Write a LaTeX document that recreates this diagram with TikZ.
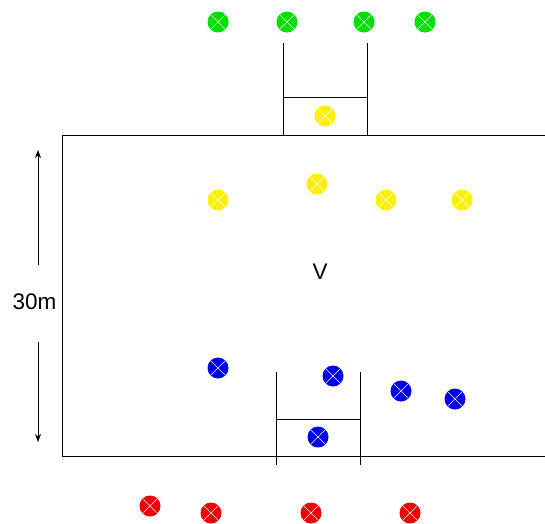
\documentclass[tikz,border=0pt]{standalone}
\usepackage{fontspec}
\setmainfont{Liberation Sans}
\usetikzlibrary{arrows.meta}
\definecolor{pgreen}{RGB}{0,222,0}
\definecolor{pyellow}{RGB}{255,240,0}
\definecolor{pblue}{RGB}{0,0,230}
\definecolor{pred}{RGB}{236,0,0}
\tikzset{
  player/.style={circle, fill=#1, draw=none, minimum size=21pt, inner sep=0pt,
    path picture={\draw[white, line width=0.6pt]
      (path picture bounding box.north west) -- (path picture bounding box.south east)
      (path picture bounding box.north east) -- (path picture bounding box.south west);}},
  fieldline/.style={black, line width=1pt},
  lbl/.style={font=\fontsize{22.5}{27}\selectfont, inner sep=0pt},
  dimarrow/.style={black, line width=0.9pt, -{Stealth[length=8pt,width=6pt]}}
}
\begin{document}
\begin{tikzpicture}[x=1pt,y=-1pt]
\useasboundingbox (0,0) rectangle (545,523);
% field
\coordinate (ftl) at (62,135);
\coordinate (ftr) at (545,135);
\coordinate (fbl) at (62,456);
\coordinate (fbr) at (545,456);
\draw[fieldline] (ftr) -- (ftl) -- (fbl) -- (fbr);
% top goal
\coordinate (tg1) at (283,43);
\coordinate (tg2) at (367,43);
\coordinate (tg1b) at (283,135);
\coordinate (tg2b) at (367,135);
\coordinate (tc1) at (283,97);
\coordinate (tc2) at (367,97);
\draw[fieldline] (tg1) -- (tg1b) (tg2) -- (tg2b) (tc1) -- (tc2);
% bottom goal
\coordinate (bg1) at (276,372);
\coordinate (bg2) at (360,372);
\coordinate (bg1b) at (276,465);
\coordinate (bg2b) at (360,465);
\coordinate (bc1) at (276,419);
\coordinate (bc2) at (360,419);
\draw[fieldline] (bg1) -- (bg1b) (bg2) -- (bg2b) (bc1) -- (bc2);
% dimension
\node[lbl] (dim) at (34.5,302) {30m};
\coordinate (dtop) at (38,150);
\coordinate (dtopS) at (38,265);
\coordinate (dbot) at (38,442);
\coordinate (dbotS) at (38,342);
\draw[dimarrow] (dtopS) -- (dtop);
\draw[dimarrow] (dbotS) -- (dbot);
% V label
\node[lbl] (v) at (320,272) {V};
% green players
\node[player=pgreen] (g1) at (218,22) {};
\node[player=pgreen] (g2) at (287,22) {};
\node[player=pgreen] (g3) at (364,22) {};
\node[player=pgreen] (g4) at (425,22) {};
% yellow players
\node[player=pyellow] (y0) at (325,116) {};
\node[player=pyellow] (y1) at (218,200) {};
\node[player=pyellow] (y2) at (317,184) {};
\node[player=pyellow] (y3) at (386,200) {};
\node[player=pyellow] (y4) at (462,200) {};
% blue players
\node[player=pblue] (b1) at (218,368) {};
\node[player=pblue] (b2) at (333,376) {};
\node[player=pblue] (b3) at (401,391) {};
\node[player=pblue] (b4) at (455,399) {};
\node[player=pblue] (b5) at (318,437) {};
% red players
\node[player=pred] (r1) at (150,506) {};
\node[player=pred] (r2) at (211,513) {};
\node[player=pred] (r3) at (311,513) {};
\node[player=pred] (r4) at (410,513) {};
\end{tikzpicture}
\end{document}
